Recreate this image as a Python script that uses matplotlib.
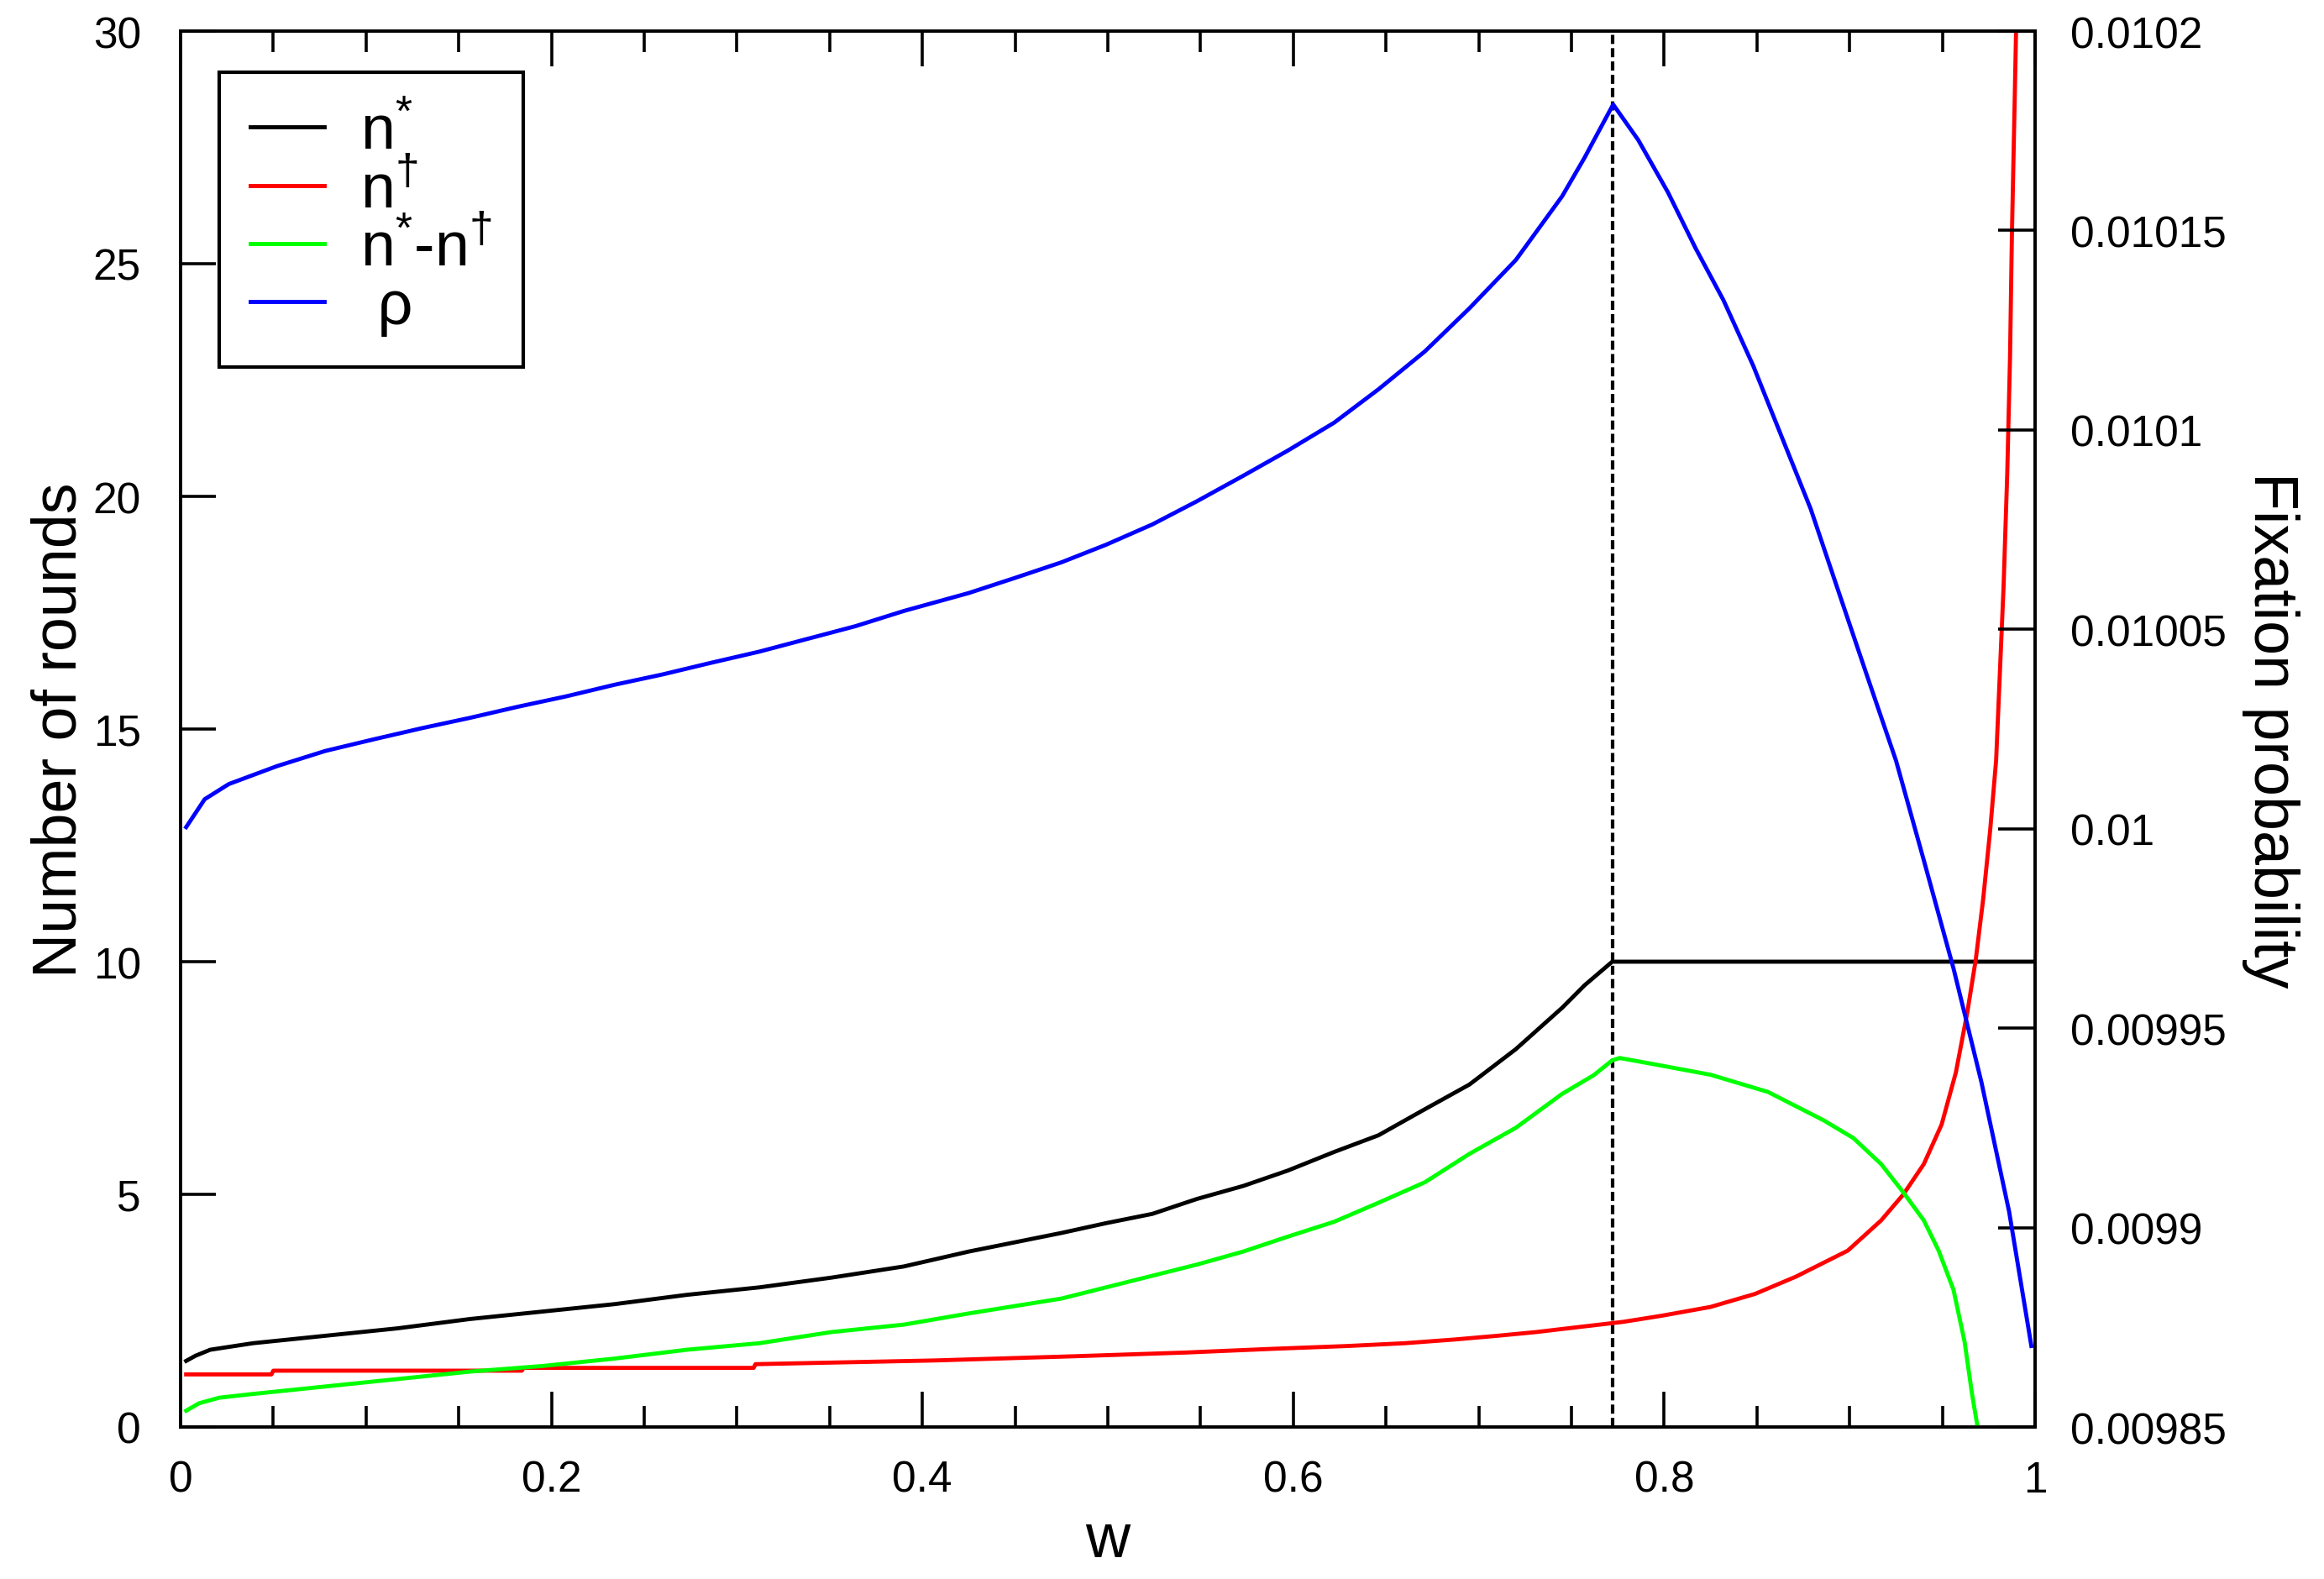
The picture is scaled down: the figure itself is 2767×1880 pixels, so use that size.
import matplotlib
matplotlib.use("Agg")
import matplotlib.pyplot as plt
from matplotlib.ticker import FixedLocator, MultipleLocator

plt.rcParams['font.family'] = ['Liberation Sans', 'DejaVu Sans']
plt.rcParams['mathtext.fontset'] = 'custom'
plt.rcParams['mathtext.rm'] = 'Liberation Sans'
plt.rcParams['mathtext.it'] = 'Liberation Sans'
plt.rcParams['mathtext.bf'] = 'Liberation Sans'

# ---------------- data ----------------
w_nstar = [0.003, 0.008, 0.016, 0.039, 0.078, 0.117, 0.156, 0.195, 0.234, 0.273,
           0.312, 0.351, 0.390, 0.425, 0.450, 0.475, 0.499, 0.524, 0.548, 0.573,
           0.597, 0.622, 0.646, 0.671, 0.695, 0.720, 0.745, 0.757, 0.772, 1.000]
n_star = [1.42, 1.53, 1.66, 1.80, 1.96, 2.12, 2.32, 2.48, 2.64, 2.84,
          3.00, 3.21, 3.45, 3.77, 3.97, 4.17, 4.38, 4.58, 4.90, 5.18,
          5.51, 5.91, 6.27, 6.83, 7.36, 8.12, 9.01, 9.49, 10.0, 10.0]

w_ndag = [0.003, 0.049, 0.050, 0.184, 0.185, 0.309, 0.310, 0.407, 0.482, 0.542,
          0.589, 0.629, 0.660, 0.687, 0.710, 0.731, 0.748, 0.763, 0.778, 0.7985,
          0.825, 0.849, 0.871, 0.899, 0.917, 0.929, 0.940, 0.9496, 0.9573, 0.9635,
          0.968, 0.972, 0.9758, 0.979, 0.981, 0.983, 0.985, 0.9865, 0.9875, 0.989, 0.990]
n_dag = [1.13, 1.13, 1.21, 1.21, 1.27, 1.27, 1.35, 1.43, 1.52, 1.60,
         1.68, 1.74, 1.80, 1.88, 1.96, 2.04, 2.12, 2.19, 2.26, 2.39,
         2.58, 2.86, 3.23, 3.79, 4.44, 5.00, 5.65, 6.50, 7.62, 8.92,
         10.04, 11.34, 12.83, 14.33, 16.19, 18.05, 20.5, 23.0, 25.6, 28.5, 30.5]

w_diff = [0.003, 0.010, 0.021, 0.039, 0.078, 0.117, 0.156, 0.195, 0.234, 0.273,
          0.312, 0.351, 0.390, 0.425, 0.450, 0.475, 0.499, 0.524, 0.548, 0.573,
          0.597, 0.622, 0.646, 0.671, 0.695, 0.720, 0.745, 0.762, 0.772, 0.776,
          0.794, 0.825, 0.856, 0.886, 0.902, 0.917, 0.929, 0.940, 0.948, 0.956,
          0.962, 0.966, 0.969]
n_diff = [0.35, 0.51, 0.63, 0.71, 0.87, 1.03, 1.19, 1.31, 1.47, 1.66,
          1.80, 2.04, 2.20, 2.44, 2.60, 2.76, 3.00, 3.25, 3.49, 3.77,
          4.09, 4.41, 4.82, 5.26, 5.87, 6.43, 7.16, 7.56, 7.88, 7.93,
          7.80, 7.57, 7.20, 6.59, 6.21, 5.65, 5.04, 4.44, 3.79, 2.95,
          1.83, 0.71, 0.0]

w_rho = [0.003, 0.013, 0.026, 0.052, 0.078, 0.104, 0.130, 0.156, 0.182, 0.208,
         0.234, 0.260, 0.286, 0.312, 0.338, 0.364, 0.390, 0.425, 0.450, 0.475,
         0.499, 0.524, 0.548, 0.573, 0.597, 0.622, 0.646, 0.671, 0.695, 0.720,
         0.745, 0.757, 0.7725, 0.786, 0.802, 0.817, 0.832, 0.848, 0.863, 0.879,
         0.894, 0.909, 0.925, 0.940, 0.956, 0.971, 0.986, 0.998]
rho = [0.0100004, 0.0100074, 0.0100112, 0.0100157, 0.0100195, 0.0100224, 0.0100252, 0.0100278, 0.0100306, 0.0100332,
       0.0100361, 0.0100387, 0.0100416, 0.0100444, 0.0100476, 0.0100508, 0.0100546, 0.0100591, 0.0100629, 0.0100668,
       0.0100712, 0.0100763, 0.0100821, 0.0100885, 0.0100948, 0.0101018, 0.0101102, 0.0101197, 0.0101305, 0.0101426,
       0.0101586, 0.0101682, 0.0101816, 0.0101727, 0.0101596, 0.0101455, 0.0101325, 0.0101161, 0.0100987, 0.0100802,
       0.0100595, 0.0100389, 0.0100171, 0.0099921, 0.0099650, 0.0099366, 0.0099040, 0.0098703]

w_peak = 0.772

x_ticks = [0, 0.2, 0.4, 0.6, 0.8, 1.0]
x_ticklabels = ["0", "0.2", "0.4", "0.6", "0.8", "1"]
y_ticks = [0, 5, 10, 15, 20, 25, 30]
y_ticklabels = ["0", "5", "10", "15", "20", "25", "30"]
y2_ticks = [0.00985, 0.0099, 0.00995, 0.01, 0.01005, 0.0101, 0.01015, 0.0102]
y2_ticklabels = ["0.00985", "0.0099", "0.00995", "0.01", "0.01005", "0.0101", "0.01015", "0.0102"]

labels = ["n$^{*}$", "n$^{\\dagger}$", "n$^{*}$-n$^{\\dagger}$", " ρ"]

# ---------------- figure ----------------
W, H, DPI = 2767, 1881, 200
fig = plt.figure(figsize=(W / DPI, H / DPI), dpi=DPI)
L, R, T, B = 215, 2423, 38, 1700
ax = fig.add_axes([L / W, 1 - B / H, (R - L) / W, (B - T) / H])
ax2 = ax.twinx()

lw = 1.75
l1, = ax.plot(w_nstar, n_star, color='black', lw=lw, label=labels[0], zorder=3)
l2, = ax.plot(w_ndag, n_dag, color='#ff0000', lw=lw, label=labels[1], zorder=3)
l3, = ax.plot(w_diff, n_diff, color='#00ff00', lw=lw, label=labels[2], zorder=3)
ax.axvline(w_peak, color='black', lw=1.5, dashes=(2.6, 1.2), zorder=2)
l4, = ax2.plot(w_rho, rho, color='#0000ff', lw=lw, label=labels[3], zorder=3)

ax.set_xlim(0, 1)
ax.set_ylim(0, 30)
ax2.set_ylim(0.00985, 0.0102)

tick_fs = 18.5
ax.xaxis.set_major_locator(FixedLocator(x_ticks))
ax.set_xticklabels(x_ticklabels)
ax.xaxis.set_minor_locator(MultipleLocator(0.05))
ax.yaxis.set_major_locator(FixedLocator(y_ticks))
ax.set_yticklabels(y_ticklabels)
ax2.yaxis.set_major_locator(FixedLocator(y2_ticks))
ax2.set_yticklabels(y2_ticklabels)

ax.tick_params(axis='x', which='major', direction='in', length=15, width=1.3,
               top=True, bottom=True, labelsize=tick_fs, pad=14)
ax.tick_params(axis='x', which='minor', direction='in', length=9, width=1.3,
               top=True, bottom=True)
ax.tick_params(axis='y', which='major', direction='in', length=15, width=1.3,
               left=True, right=False, labelsize=tick_fs, pad=17)
ax2.tick_params(axis='y', which='major', direction='in', length=16, width=1.3,
                right=True, left=False, labelsize=tick_fs, pad=15)
ax2.tick_params(axis='x', which='both', top=False, bottom=False)

for a in (ax, ax2):
    for s in a.spines.values():
        s.set_linewidth(1.3)

lab_fs = 26.5
ax.set_xlabel('w', fontsize=lab_fs, va='baseline')
ax.xaxis.set_label_coords(0.5, -0.0927)
ax.set_ylabel('Number of rounds', fontsize=lab_fs, rotation=90,
              rotation_mode='anchor', ha='center', va='baseline')
ax.yaxis.set_label_coords(-0.0566, 0.5)
ax2.set_ylabel('Fixation probability', fontsize=lab_fs, rotation=-90,
               rotation_mode='anchor', ha='center', va='baseline')
ax2.yaxis.set_label_coords(1.1182, 0.5)

leg = ax2.legend([l1, l2, l3, l4], labels, loc='upper left',
                 bbox_to_anchor=(0.0208, 0.9705), borderaxespad=0,
                 fontsize=lab_fs, frameon=True, fancybox=False, framealpha=1,
                 edgecolor='black', handlelength=1.2, handletextpad=0.58,
                 borderpad=0.5, labelspacing=0.0)
leg.get_frame().set_linewidth(1.5)
for line in leg.get_lines():
    line.set_linewidth(lw)

fig.savefig('out.png', dpi=DPI)
